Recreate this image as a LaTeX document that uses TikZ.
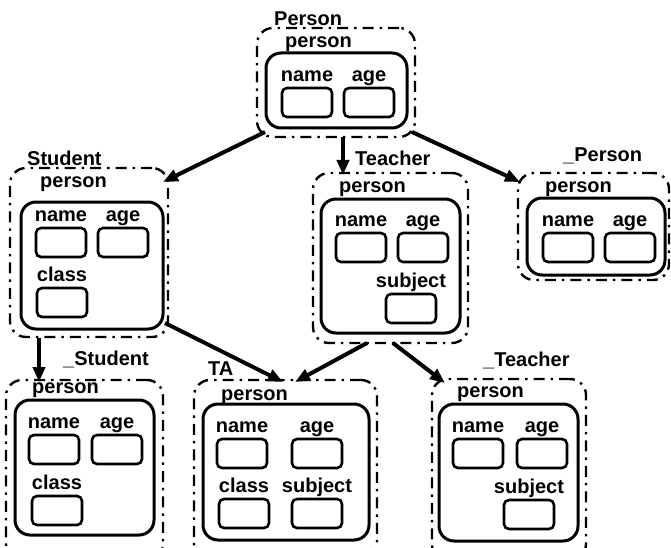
\documentclass[tikz,border=0pt]{standalone}
\usepackage{fontspec}
\setmainfont{Liberation Sans}
\usetikzlibrary{calc,arrows.meta}

\tikzset{
  outerbox/.style={draw, line width=2.4pt, rounded corners=16pt,
    dash pattern=on 11pt off 6pt on 2.5pt off 6pt,
    inner sep=0pt, outer sep=0pt, anchor=north west},
  innerbox/.style={draw, line width=3pt, rounded corners=15pt,
    inner sep=0pt, outer sep=0pt, anchor=north west},
  slot/.style={draw, line width=2.6pt, rounded corners=5pt,
    inner sep=0pt, outer sep=0pt, minimum width=50pt, minimum height=29pt,
    anchor=north west},
  lbl/.style={font=\bfseries\fontsize{20}{22}\selectfont, inner sep=0pt},
  inherit/.style={line width=4pt, -{Triangle[length=15pt,width=12pt]}}
}

% a labelled field slot: id, left x, top y, label
\newcommand\fld[4]{%
  \node[slot] (#1) at (#2,#3) {};
  \node[lbl, anchor=base] (#1-l) at ($(#1.north)+(0,-6.5)$) {#4};}

\begin{document}
\begin{tikzpicture}[x=1pt, y=-1pt]
\useasboundingbox (0,0) rectangle (671,548);
\clip (0,0) rectangle (671,548);

% ---------- Person ----------
\node[outerbox, minimum width=158, minimum height=109] (Person) at (257,28) {};
\node[lbl, anchor=base west] (Person-t) at (274,26) {Person};
\node[innerbox, minimum width=141, minimum height=75] (Person-i) at (266,53) {};
\node[lbl, anchor=base west] (Person-p) at (285,48) {person};
\fld{Person-name}{282}{88}{name}
\fld{Person-age}{344}{88}{age}

% ---------- Student ----------
\node[outerbox, minimum width=158, minimum height=169] (Student) at (10,168) {};
\node[lbl, anchor=base west] (Student-t) at (27,165) {Student};
\node[innerbox, minimum width=142, minimum height=127] (Student-i) at (21,202) {};
\node[lbl, anchor=base west] (Student-p) at (40,187) {person};
\fld{Student-name}{36}{228}{name}
\fld{Student-age}{98}{228}{age}
\fld{Student-class}{37}{288}{class}

% ---------- Teacher ----------
\node[outerbox, minimum width=155, minimum height=170] (Teacher) at (313,173) {};
\node[lbl, anchor=base west] (Teacher-t) at (355,165) {Teacher};
\node[innerbox, minimum width=139, minimum height=134] (Teacher-i) at (321,199) {};
\node[lbl, anchor=base west] (Teacher-p) at (339,193) {person};
\fld{Teacher-name}{336}{233}{name}
\fld{Teacher-age}{398}{233}{age}
\fld{Teacher-subject}{386}{294}{subject}

% ---------- _Person ----------
\node[outerbox, minimum width=151, minimum height=107] (uPerson) at (518,173) {};
\node[lbl, anchor=base west] (uPerson-t) at (563,161) {\_Person};
\node[innerbox, minimum width=138, minimum height=77] (uPerson-i) at (527,198) {};
\node[lbl, anchor=base west] (uPerson-p) at (545,193) {person};
\fld{uPerson-name}{543}{233}{name}
\fld{uPerson-age}{605}{233}{age}

% ---------- _Student ----------
\node[outerbox, minimum width=157, minimum height=180] (uStudent) at (6,380) {};
\node[lbl, anchor=base west] (uStudent-t) at (63,365) {\_Student};
\node[innerbox, minimum width=139, minimum height=135] (uStudent-i) at (15,400) {};
\node[lbl, anchor=base west] (uStudent-p) at (32,393) {person};
\fld{uStudent-name}{29}{435}{name}
\fld{uStudent-age}{92}{435}{age}
\fld{uStudent-class}{32}{496}{class}

% ---------- TA ----------
\node[outerbox, minimum width=183, minimum height=180] (TA) at (194,380) {};
\node[lbl, anchor=base west] (TA-t) at (208,375) {TA};
\node[innerbox, minimum width=166, minimum height=136] (TA-i) at (203,404) {};
\node[lbl, anchor=base west] (TA-p) at (221,400) {person};
\fld{TA-name}{217}{439}{name}
\fld{TA-age}{292}{439}{age}
\fld{TA-class}{219}{499}{class}
\fld{TA-subject}{292}{499}{subject}

% ---------- _Teacher ----------
\node[outerbox, minimum width=154, minimum height=181] (uTeacher) at (432,379) {};
\node[lbl, anchor=base west] (uTeacher-t) at (483,366) {\_Teacher};
\node[innerbox, minimum width=139, minimum height=137] (uTeacher-i) at (439,404) {};
\node[lbl, anchor=base west] (uTeacher-p) at (457,397) {person};
\fld{uTeacher-name}{453}{439}{name}
\fld{uTeacher-age}{517}{439}{age}
\fld{uTeacher-subject}{504}{500}{subject}

% ---------- inheritance arrows ----------
\draw[inherit] ($(Person.south west)+(8,-5)$) -- ($(Student.north east)+(-5,14)$);
\draw[inherit] ($(Person.south west)+(86,0)$) -- ($(Teacher.north west)+(30,2)$);
\draw[inherit] ($(Person.south east)+(-3,-5)$) -- ($(uPerson.north west)+(2,9)$);
\draw[inherit] ($(Student.south west)+(29,1)$) -- ($(uStudent.north west)+(33,2)$);
\draw[inherit] ($(Student.south east)+(-3,-14)$) -- ($(TA.north west)+(89,2)$);
\draw[inherit] ($(Teacher.south west)+(54,0)$) -- ($(TA.north west)+(101,2)$);
\draw[inherit] ($(Teacher.south west)+(80,0)$) -- ($(uTeacher.north west)+(13,4)$);
\end{tikzpicture}
\end{document}
